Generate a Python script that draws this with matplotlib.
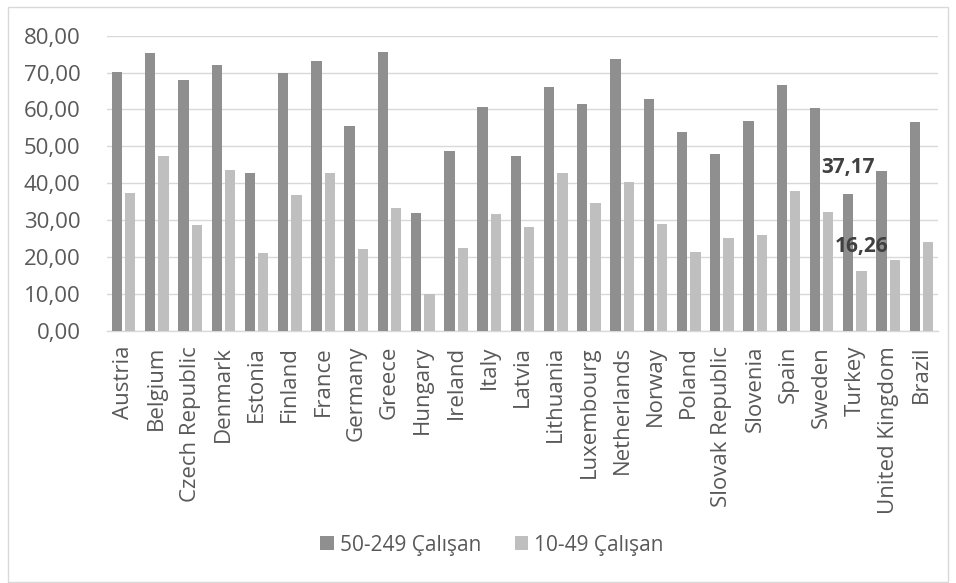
import matplotlib
matplotlib.use("Agg")
import matplotlib.pyplot as plt
import numpy as np
from matplotlib.patches import Rectangle

plt.rcParams['font.family'] = ['Open Sans', 'DejaVu Sans']

countries = ["Austria", "Belgium", "Czech Republic", "Denmark", "Estonia", "Finland",
             "France", "Germany", "Greece", "Hungary", "Ireland", "Italy", "Latvia",
             "Lithuania", "Luxembourg", "Netherlands", "Norway", "Poland",
             "Slovak Republic", "Slovenia", "Spain", "Sweden", "Turkey",
             "United Kingdom", "Brazil"]
medium = [70.1, 75.2, 68.0, 72.1, 42.9, 69.9, 73.1, 55.6, 75.5, 31.9, 48.6, 60.7, 47.3,
          66.0, 61.5, 73.7, 62.8, 53.8, 47.9, 56.8, 66.5, 60.4, 37.17, 43.4, 56.7]
small = [37.4, 47.5, 28.75, 43.7, 21.0, 36.8, 42.9, 22.1, 33.2, 10.0, 22.4, 31.6, 28.1,
         42.9, 34.5, 40.3, 28.9, 21.3, 25.2, 25.9, 37.9, 32.1, 16.26, 19.1, 24.0]
series_names = ["50-249 Çalışan", "10-49 Çalışan"]
yticks = [0, 10, 20, 30, 40, 50, 60, 70, 80]

dark = "#8f8f8f"
light = "#bfbfbf"
text_col = "#595959"
grid_col = "#d9d9d9"

fig = plt.figure(figsize=(9.56, 5.83), dpi=100)
fig.patches.append(Rectangle((7.5 / 956, 1 - 581.5 / 583), 940 / 956, 575 / 583,
                             transform=fig.transFigure, fill=False,
                             edgecolor=grid_col, linewidth=1.0))

ax = fig.add_axes([107 / 956, 1 - 330.7 / 583, 831 / 956, 295 / 583])
x = np.arange(len(countries))
w = 0.31
b1 = ax.bar(x - 0.2, medium, width=w, color=dark, label=series_names[0], zorder=3)
b2 = ax.bar(x + 0.2, small, width=w, color=light, label=series_names[1], zorder=3)

ax.set_xlim(-0.5, len(countries) - 0.5)
ax.set_ylim(0, 80)
ax.set_yticks(yticks)
ax.set_yticklabels([f"{v:.2f}".replace(".", ",") for v in yticks])
ax.yaxis.grid(True, color=grid_col, linewidth=1.0, zorder=0)
ax.set_axisbelow(True)
for s in ["top", "right", "left"]:
    ax.spines[s].set_visible(False)
ax.spines["bottom"].set_color(grid_col)
ax.spines["bottom"].set_linewidth(1.0)
ax.tick_params(axis="both", length=0, labelcolor=text_col, labelsize=16)
ax.tick_params(axis="y", pad=19)
ax.tick_params(axis="x", pad=11)
ax.set_xticks(x)
ax.set_xticklabels(countries, rotation=90)

# value labels for Turkey
ti = countries.index("Turkey")
ax.annotate(f"{medium[ti]:.2f}".replace(".", ","), (x[ti] - 0.2, medium[ti]),
            xytext=(0, 18.7), textcoords="offset points", ha="center", va="center",
            fontsize=15, fontweight="bold", color="#404040")
ax.annotate(f"{small[ti]:.2f}".replace(".", ","), (x[ti] + 0.2, small[ti]),
            xytext=(0, 17.3), textcoords="offset points", ha="center", va="center",
            fontsize=15, fontweight="bold", color="#404040")

fig.legend(handles=[b1, b2], labels=series_names, loc="center",
           bbox_to_anchor=(492 / 956, 1 - 545 / 583), ncol=2, frameon=False,
           fontsize=15, labelcolor=text_col, handlelength=0.65, handleheight=0.65,
           handletextpad=0.3, columnspacing=1.6)

fig.savefig("out.png", dpi=100)
